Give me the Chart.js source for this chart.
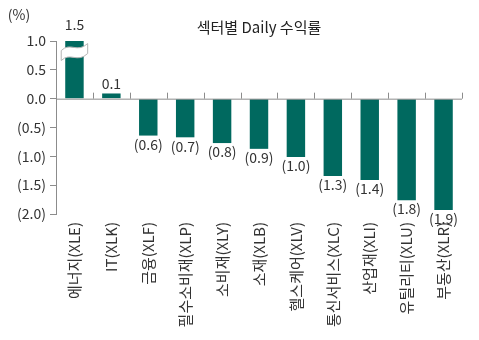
<!DOCTYPE html>
<html>
<head>
<meta charset="utf-8">
<script src="https://cdn.jsdelivr.net/npm/chart.js@4"></script>
<style>
  html, body { margin: 0; padding: 0; background: #fff; }
  #chart-box { width: 479px; height: 340px; }
</style>
</head>
<body>
<div id="chart-box"><canvas id="sector-chart"></canvas></div>
<script>
// Sector names and daily returns (%)
const sectors = ['에너지(XLE)', 'IT(XLK)', '금융(XLF)', '필수소비재(XLP)', '소비재(XLY)', '소재(XLB)',
    '헬스케어(XLV)', '통신서비스(XLC)', '산업재(XLI)', '유틸리티(XLU)', '부동산(XLR)']
const dailyReturns = [1.5, 0.09, -0.64, -0.67, -0.77, -0.87, -1.01, -1.34, -1.41, -1.76, -1.93]
const yTickValues = [1.0, 0.5, 0, -0.5, -1.0, -1.5, -2.0]

const chartTitle = '섹터별 Daily 수익률'
const unitLabel = '(%)'
const barColor = '#00695f'
const textColor = '#333'
const axisColor = '#8c8c8c'
const fontFamily = "'Noto Sans CJK KR', 'Noto Sans', sans-serif"

// negative numbers shown in brackets
function fmt(v) {
    const s = Math.abs(v).toFixed(1)
    return v < 0 ? `(${s})` : s
}

// zero line, category ticks, axis break, value labels, title
const decorations = {
    id: 'decorations',
    afterDatasetsDraw(chart) {
        const {ctx, chartArea, scales: {x, y}} = chart
        const meta = chart.getDatasetMeta(0)
        const zeroY = y.getPixelForValue(0)
        ctx.save()

        // zero line with small ticks between categories
        ctx.strokeStyle = axisColor
        ctx.lineWidth = 1
        ctx.beginPath()
        ctx.moveTo(chartArea.left, zeroY + 0.5)
        ctx.lineTo(chartArea.right, zeroY + 0.5)
        for (let i = 1; i <= sectors.length; i++) {
            const bx = i < sectors.length
                ? (x.getPixelForValue(i - 1) + x.getPixelForValue(i)) / 2
                : chartArea.right
            ctx.moveTo(Math.round(bx) + 0.5, zeroY)
            ctx.lineTo(Math.round(bx) + 0.5, zeroY - 6)
        }
        ctx.stroke()

        // bars above the axis max get a break mark
        meta.data.forEach((bar, i) => {
            if (dailyReturns[i] <= y.max) return
            const half = bar.width / 2 + 4
            const x0 = bar.x - half
            const x1 = bar.x + half
            const mid = y.getPixelForValue(y.max - 0.2)
            const w = x1 - x0
            ctx.beginPath()
            ctx.moveTo(x0, mid - 2)
            ctx.bezierCurveTo(x0 + w * 0.35, mid - 11, x0 + w * 0.6, mid + 1, x1, mid - 9)
            ctx.lineTo(x1, mid + 1)
            ctx.bezierCurveTo(x0 + w * 0.6, mid + 11, x0 + w * 0.35, mid - 1, x0, mid + 8)
            ctx.closePath()
            ctx.fillStyle = '#fff'
            ctx.fill()
            ctx.strokeStyle = '#b5b5b5'
            ctx.stroke()
        })

        // value labels
        ctx.fillStyle = textColor
        ctx.font = `14px ${fontFamily}`
        ctx.textAlign = 'center'
        meta.data.forEach((bar, i) => {
            const v = dailyReturns[i]
            if (v >= 0) {
                ctx.textBaseline = 'bottom'
                const top = Math.max(bar.y, chartArea.top)
                const gap = v > y.max ? 9 : 3
                ctx.fillText(fmt(v), bar.x, top - gap)
            } else {
                ctx.textBaseline = 'top'
                ctx.fillText(fmt(v), bar.x, bar.y + 2)
            }
        })

        // title and unit
        ctx.textBaseline = 'middle'
        ctx.font = `15px ${fontFamily}`
        ctx.fillStyle = '#222'
        ctx.fillText(chartTitle, (chartArea.left + chartArea.right) / 2, 27)
        ctx.font = `14px ${fontFamily}`
        ctx.fillStyle = textColor
        ctx.fillText(unitLabel, 19, 15)
        ctx.restore()
    }
}

const ctx = document.getElementById('sector-chart')
const sectorChart = new Chart(ctx, {
    type: 'bar',
    data: {
        labels: sectors,
        datasets: [{
            data: dailyReturns,
            backgroundColor: barColor,
            barPercentage: 0.5,
            categoryPercentage: 1.0
        }]
    },
    options: {
        responsive: true,
        maintainAspectRatio: false,
        animation: false,
        layout: {
            padding: {top: 41, right: 17, left: 0, bottom: 0}
        },
        scales: {
            x: {
                grid: {display: false, drawTicks: false},
                border: {display: false},
                ticks: {
                    autoSkip: false,
                    minRotation: 90,
                    maxRotation: 90,
                    padding: 8,
                    color: textColor,
                    font: {family: fontFamily, size: 15}
                },
                afterFit(scale) { scale.height = 126 }
            },
            y: {
                min: -2,
                max: 1,
                grid: {
                    drawOnChartArea: false,
                    tickLength: 6,
                    tickColor: axisColor
                },
                border: {color: axisColor},
                afterBuildTicks(scale) {
                    scale.ticks = yTickValues.map(v => ({value: v}))
                },
                ticks: {
                    padding: 4,
                    color: textColor,
                    font: {family: fontFamily, size: 14},
                    callback: v => fmt(v)
                },
                afterFit(scale) { scale.width = 56 }
            }
        },
        plugins: {
            legend: {display: false},
            tooltip: {enabled: false}
        }
    },
    plugins: [decorations]
})
</script>
</body>
</html>
